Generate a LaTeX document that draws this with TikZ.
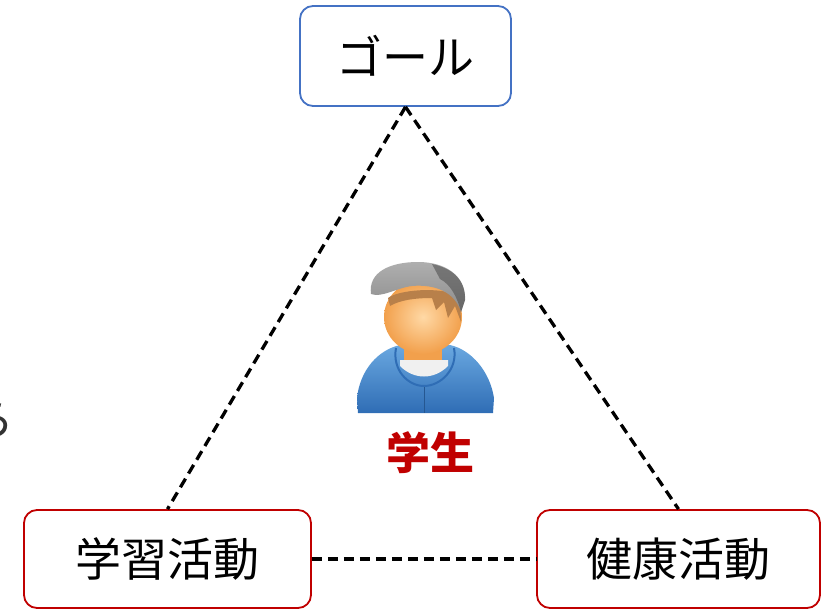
\documentclass[tikz,border=0pt]{standalone}
\usepackage{fontspec}
\newfontfamily\jp{Noto Sans CJK JP}
\definecolor{goalblue}{HTML}{4472C4}
\definecolor{actred}{HTML}{C00000}
\definecolor{hoodtop}{HTML}{6AA8E0}
\definecolor{hoodbot}{HTML}{2F6DB5}
\definecolor{skinlt}{HTML}{FFD9A6}
\definecolor{skindk}{HTML}{F2A04C}
\definecolor{hair}{HTML}{B8804A}
\definecolor{capgray}{HTML}{8C8C8C}
\definecolor{capdark}{HTML}{4A4A4A}
\tikzset{
  box/.style={draw, line width=1.8pt, rounded corners=13pt, fill=white,
    font=\jp\fontsize{46}{52}\selectfont, inner sep=0pt, text=black},
  goalbox/.style={box, draw=goalblue, minimum width=211pt, minimum height=100pt},
  actbox/.style={box, draw=actred, minimum height=98pt},
  link/.style={line width=3.3pt, dash pattern=on 10pt off 6pt, black},
}
\begin{document}
\begin{tikzpicture}[x=1pt,y=-1pt]
\useasboundingbox (0,0) rectangle (822,610);

% label running off the left edge
\node[font=\jp\fontsize{46}{52}\selectfont, text=black!80, anchor=center] (edge) at (-8,420) {ら};

% boxes
\node[goalbox] (goal) at (405.5,56) {ゴール};
\node[actbox, minimum width=287pt] (study) at (167.5,559) {学習活動};
\node[actbox, minimum width=283pt] (health) at (678.5,559) {健康活動};

% dashed triangle
\draw[link] (goal.south) -- (study.north);
\draw[link] (goal.south) -- (health.north);
\draw[link] (study.east) -- (health.west);

% student icon: hoodie
\shade[top color=hoodtop, bottom color=hoodbot]
  (358,413) -- (357,398) .. controls (360,370) and (378,350) .. (400,345)
  -- (450,345) .. controls (472,350) and (490,372) .. (494,398)
  -- (493,413) -- cycle;
% neck
\fill[skindk] (404,335) rectangle (442,370);
% shirt
\fill[gray!12] (400,366) .. controls (414,380) and (434,380) .. (448,366)
  -- (448,360) -- (400,360) -- cycle;
% hood rim around the neck
\draw[hoodbot, line width=2pt] (396,348) .. controls (392,370) and (408,386) .. (424,386)
  .. controls (440,386) and (458,370) .. (454,348);
\draw[hoodbot!80!black, line width=1pt] (424,387) -- (424,413);
% face
\shade[inner color=skinlt, outer color=skindk] (423,317) ellipse [x radius=39, y radius=37];
% hair under the cap
\fill[hair] (388,298) .. controls (398,290) and (440,286) .. (460,296)
  -- (461,322) -- (455,306) -- (448,318) -- (444,302) -- (436,310) -- (432,298)
  .. controls (415,298) and (400,300) .. (390,306) -- cycle;
% cap
\shade[top color=capgray!70, bottom color=capgray]
  (371,294) .. controls (368,272) and (390,262) .. (418,262)
  .. controls (446,262) and (466,276) .. (465,300)
  -- (461,312) .. controls (455,292) and (435,284) .. (412,286)
  .. controls (396,288) and (382,298) .. (371,294) -- cycle;
\fill[capdark, opacity=0.55] (432,264) .. controls (452,268) and (466,280) .. (465,300)
  -- (461,312) .. controls (457,296) and (450,284) .. (440,279) -- cycle;

% label
\node[font=\jp\bfseries\fontsize{44}{50}\selectfont, text=actred] (student) at (430,453) {学生};
\end{tikzpicture}
\end{document}
